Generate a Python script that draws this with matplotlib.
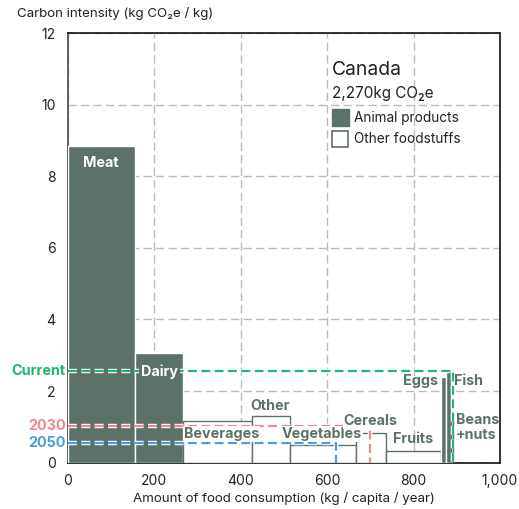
import matplotlib.pyplot as plt
import matplotlib.patheffects as pe
from matplotlib.patches import Rectangle
from matplotlib.ticker import FuncFormatter

plt.rcParams['font.family'] = ['Inter', 'DejaVu Sans']

# data
foods = ["Meat", "Dairy", "Beverages", "Other", "Vegetables", "Cereals",
         "Fruits", "Eggs", "Fish", "Beans\n+nuts"]
amount = [155, 111, 161, 88, 151, 70, 127, 12, 11.5, 4]          # kg / capita / year
intensity = [8.85, 3.07, 1.16, 1.30, 0.49, 0.84, 0.33, 2.40, 2.57, 1.25]  # kg CO2e / kg
animal = [True, True, False, False, False, False, False, True, True, False]

scenarios = ["Current", "2030", "2050"]
scenario_amount = [890.5, 699, 620]
scenario_intensity = [2.55, 1.03, 0.56]

country = "Canada"
total_emissions = "2,270kg CO\u2082e"

dark = "#5c7268"
txt = "#222222"
scen_colors = ["#1fb574", "#f0878f", "#4a9be0"]

fig = plt.figure(figsize=(5.19, 5.09), dpi=100)
ax = fig.add_axes([68 / 519, 1 - 462.7 / 509, 432 / 519, (462.7 - 33) / 509])

starts = [0]
for a in amount[:-1]:
    starts.append(starts[-1] + a)

for x0, w, h, an in zip(starts, amount, intensity, animal):
    if an:
        ax.bar(x0, h, width=w, align='edge', color=dark, edgecolor='white',
               linewidth=1, zorder=3)
    else:
        ax.bar(x0, h, width=w, align='edge', color='white', edgecolor=dark,
               linewidth=1, zorder=3)

# scenario average lines
for name, w, h, c in zip(scenarios, scenario_amount, scenario_intensity, scen_colors):
    ax.plot([0, w, w], [h, h, 0], color=c, lw=1.6, dashes=(4, 2), zorder=5,
            path_effects=[pe.Stroke(linewidth=3.2, foreground='white'), pe.Normal()])
    ax.text(-6, h, name, color=c, fontsize=10.4, fontweight='bold',
            ha='right', va='center', clip_on=False)

# bar labels
lab = dict(color=dark, fontsize=10.3, fontweight='bold', zorder=6)
wbox = dict(facecolor='white', edgecolor='none', pad=0.5)
ax.text(77, 8.37, "Meat", color='white', fontsize=10.3, fontweight='bold',
        ha='center', va='center', zorder=6)
ax.text(212, 2.55, "Dairy", color='white', fontsize=10.3, fontweight='bold',
        ha='center', va='center', zorder=6,
        bbox=dict(facecolor=dark, edgecolor='none', pad=1.5))
ax.text(269, 0.80, "Beverages", ha='left', va='center', bbox=wbox, **lab)
ax.text(469, 1.58, "Other", ha='center', va='center', **lab)
ax.text(588, 0.80, "Vegetables", ha='center', va='center', bbox=wbox, **lab)
ax.text(700, 1.16, "Cereals", ha='center', va='center', bbox=wbox, **lab)
ax.text(799, 0.66, "Fruits", ha='center', va='center', **lab)
ax.text(857, 2.28, "Eggs", ha='right', va='center', **lab)
ax.text(893, 2.28, "Fish", ha='left', va='center', **lab)
ax.text(897, 0.99, "Beans\n+nuts", ha='left', va='center', linespacing=1.05, **lab)

# legend block
ax.text(611, 10.97, country, fontsize=13.9, color=txt, ha='left', va='center')
ax.text(611, 10.3, total_emissions, fontsize=11, color=txt, ha='left', va='center')
ax.add_patch(Rectangle((611, 9.40), 39, 0.47, facecolor=dark, edgecolor=dark, zorder=4))
ax.add_patch(Rectangle((612, 8.83), 37, 0.43, facecolor='white', edgecolor=dark,
                       lw=1.2, zorder=4))
ax.text(662, 9.64, "Animal products", fontsize=9.8, color=txt, ha='left', va='center')
ax.text(662, 9.04, "Other foodstuffs", fontsize=9.8, color=txt, ha='left', va='center')

ax.set_xlim(0, 1000)
ax.set_ylim(0, 12)
ax.set_xticks([0, 200, 400, 600, 800, 1000])
ax.set_yticks([0, 2, 4, 6, 8, 10, 12])
ax.xaxis.set_major_formatter(FuncFormatter(lambda v, p: f"{v:,.0f}"))
ax.tick_params(length=0, labelsize=10, colors=txt)
ax.tick_params(axis='y', pad=9)
ax.tick_params(axis='x', pad=8)
ax.grid(True, color='#bbbbbb', lw=1, dashes=(6, 3), zorder=1)
ax.set_axisbelow(True)
for s in ['top', 'right', 'bottom']:
    ax.spines[s].set_color(txt)
    ax.spines[s].set_linewidth(1.3)
ax.spines['left'].set_color('#555555')
ax.spines['left'].set_linewidth(1.3)

ax.set_xlabel("Amount of food consumption (kg / capita / year)", fontsize=9.6,
              color=txt, labelpad=3)
fig.text(17 / 519, 1 - 14 / 509, "Carbon intensity (kg CO\u2082e / kg)", fontsize=9.6,
         color=txt, ha='left', va='center')

fig.savefig("out.png", dpi=100)
